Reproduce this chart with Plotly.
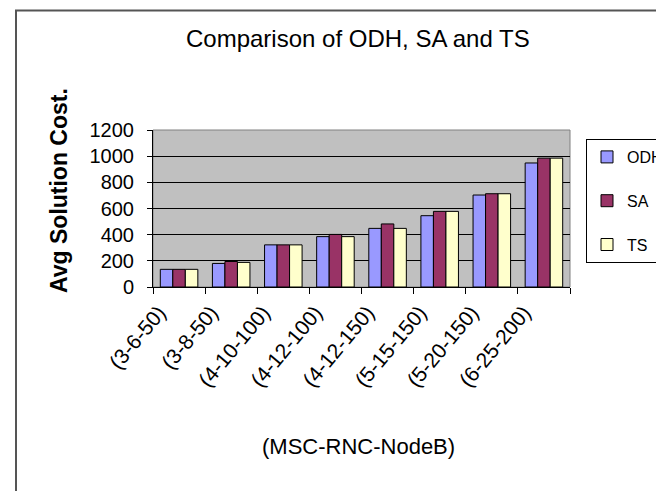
import plotly.graph_objects as go

categories = ["(3-6-50)", "(3-8-50)", "(4-10-100)", "(4-12-100)", "(4-12-150)",
              "(5-15-150)", "(5-20-150)", "(6-25-200)"]
odh = [135, 180, 322, 385, 448, 545, 703, 948]
sa = [135, 195, 322, 402, 482, 578, 713, 985]
ts = [135, 188, 322, 385, 448, 578, 713, 985]
y_ticks = [0, 200, 400, 600, 800, 1000, 1200]

FONT = "Liberation Sans, Arial, sans-serif"

# plot area in pixels
L, R, T, B = 145, 562, 122, 279
W, H = 664, 491
pw, ph = R - L, B - T

def px_x(x):
    return (x - L) / pw

def px_y(y):
    return (B - y) / ph

fig = go.Figure()
for name, vals, col in [("ODH", odh, "#9999FF"), ("SA", sa, "#993366"), ("TS", ts, "#FFFFCC")]:
    fig.add_trace(go.Bar(x=categories, y=vals, name=name, legendgroup=name,
                         marker=dict(color=col, line=dict(color="black", width=1))))

fig.update_layout(
    width=W, height=H,
    margin=dict(l=L, r=W - R, t=T, b=H - B, autoexpand=False),
    paper_bgcolor="white", plot_bgcolor="#C0C0C0",
    barmode="group", bargap=0.28, bargroupgap=0,
    font=dict(family=FONT, color="black"),
    showlegend=True,
    legend=dict(x=px_x(578), y=px_y(131), xanchor="left", yanchor="top",
                bordercolor="black", borderwidth=1, bgcolor="white",
                font=dict(size=16, family=FONT), tracegroupgap=20,
                itemwidth=30),
    xaxis=dict(type="category", tickson="boundaries", ticks="outside", ticklen=6,
               tickcolor="black", showline=True, linecolor="black", linewidth=1,
               tickangle=-50, tickfont=dict(size=21, family=FONT), showgrid=False,
               ticklabelstandoff=4, ticklabelshift=-20, automargin=False),
    yaxis=dict(range=[0, 1200], tickvals=y_ticks, ticks="outside", ticklen=5,
               tickcolor="black", showline=True, linecolor="black", linewidth=1,
               showgrid=True, gridcolor="black", gridwidth=1,
               tickfont=dict(size=20, family=FONT), ticklabelstandoff=9,
               zeroline=False, automargin=False),
    annotations=[
        dict(text="Comparison of ODH, SA and TS", x=px_x(350), y=px_y(31),
             xref="paper", yref="paper", showarrow=False,
             font=dict(size=24, family=FONT), xanchor="center", yanchor="middle"),
        dict(text="<b>Avg Solution Cost.</b>", x=px_x(51), y=px_y(183),
             xref="paper", yref="paper", showarrow=False, textangle=-90,
             font=dict(size=23, family=FONT), xanchor="center", yanchor="middle"),
        dict(text="(MSC-RNC-NodeB)", x=px_x(350), y=px_y(438),
             xref="paper", yref="paper", showarrow=False,
             font=dict(size=22, family=FONT), xanchor="center", yanchor="middle"),
    ],
    shapes=[
        dict(type="rect", xref="paper", yref="paper", x0=0, x1=1, y0=0, y1=1,
             line=dict(color="#808080", width=1), layer="below"),
        dict(type="rect", xref="paper", yref="paper",
             x0=px_x(8), x1=px_x(700), y0=px_y(2.5), y1=px_y(520),
             line=dict(color="#555555", width=2)),
    ],
)

fig.write_html("out.html")
